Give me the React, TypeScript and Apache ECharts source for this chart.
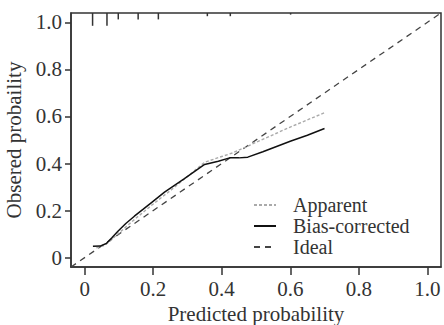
import React, { useEffect, useRef } from "react";
import * as echarts from "echarts";

const tickValues = [0, 0.2, 0.4, 0.6, 0.8, 1.0];
const tickLabels = ["0", "0.2", "0.4", "0.6", "0.8", "1.0"];

const idealX = [-0.04, 1.04];
const idealY = [-0.04, 1.04];

const apparentX = [0.034, 0.058, 0.08, 0.1, 0.15, 0.2, 0.25, 0.3, 0.35, 0.4, 0.432, 0.5, 0.6, 0.7];
const apparentY = [0.041, 0.052, 0.078, 0.105, 0.168, 0.228, 0.285, 0.345, 0.405, 0.43, 0.445, 0.49, 0.555, 0.616];

const biasX = [0.024, 0.045, 0.063, 0.08, 0.097, 0.12, 0.145, 0.17, 0.194, 0.233, 0.29, 0.35, 0.39, 0.423, 0.45, 0.476, 0.52, 0.6, 0.65, 0.7];
const biasY = [0.048, 0.049, 0.06, 0.085, 0.112, 0.145, 0.176, 0.205, 0.233, 0.278, 0.335, 0.396, 0.41, 0.424, 0.424, 0.427, 0.45, 0.495, 0.52, 0.549];

const rugX = [0.023, 0.065, 0.098, 0.156, 0.215, 0.358, 0.425, 0.601];
const rugFreq = [8, 8, 4, 4, 4, 2, 2, 1];

const FONT = "'Liberation Serif', 'DejaVu Serif', serif";
const FS = 21;
const AX = "#333";
const C_IDEAL = "#444";
const C_APP = "#aaa";
const C_BIAS = "#111";

export default function App() {
  const ref = useRef<HTMLDivElement>(null);
  useEffect(() => {
    if (!ref.current) return;
    const chart = echarts.init(ref.current, undefined, { renderer: "svg" });
    const zip = (xs: number[], ys: number[]) => xs.map((x, i) => [x, ys[i]]);
    const labelFmt = (v: number) => {
      const i = tickValues.findIndex((t) => Math.abs(t - v) < 1e-9);
      return i >= 0 ? tickLabels[i] : "";
    };
    chart.setOption({
      animation: false,
      backgroundColor: "#fff",
      textStyle: { fontFamily: FONT },
      grid: {
        left: 71,
        top: 13,
        right: 3,
        bottom: 58,
        containLabel: false,
        outerBoundsMode: "none",
        show: true,
        borderColor: AX,
        borderWidth: 1.5,
        backgroundColor: "transparent",
      },
      xAxis: {
        type: "value",
        min: -0.04,
        max: 1.04,
        name: "Predicted probability",
        nameLocation: "middle",
        nameGap: 34,
        nameTextStyle: { fontFamily: FONT, fontSize: FS, color: AX },
        axisLine: { show: true, onZero: false, lineStyle: { color: AX, width: 1.5 } },
        axisTick: { show: true, length: 8, customValues: tickValues, lineStyle: { color: AX, width: 1.5 } },
        axisLabel: {
          customValues: tickValues,
          formatter: labelFmt,
          fontFamily: FONT,
          fontSize: FS,
          color: AX,
          margin: 11,
        },
        splitLine: { show: false },
      },
      yAxis: {
        type: "value",
        min: -0.04,
        max: 1.04,
        name: "Obsered probaility",
        nameLocation: "middle",
        nameGap: 46,
        nameTextStyle: { fontFamily: FONT, fontSize: FS, color: AX },
        axisLine: { show: true, onZero: false, lineStyle: { color: AX, width: 1.5 } },
        axisTick: { show: true, length: 6, customValues: tickValues, lineStyle: { color: AX, width: 1.5 } },
        axisLabel: {
          customValues: tickValues,
          formatter: labelFmt,
          fontFamily: FONT,
          fontSize: FS,
          color: AX,
          margin: 9,
        },
        splitLine: { show: false },
      },
      legend: {
        data: ["Apparent", "Bias-corrected", "Ideal"],
        orient: "vertical",
        left: 253,
        top: 195,
        padding: 0,
        itemWidth: 22,
        itemHeight: 14,
        itemGap: 1,
        itemStyle: { opacity: 0 },
        textStyle: { fontFamily: FONT, fontSize: 20, lineHeight: 20, color: AX, padding: [0, 0, 0, 12] },
      },
      series: [
        {
          name: "Ideal",
          type: "line",
          data: zip(idealX, idealY),
          symbol: "none",
          itemStyle: { color: C_IDEAL },
          lineStyle: { color: C_IDEAL, width: 1.3, type: [6, 5] },
          z: 2,
        },
        {
          name: "Apparent",
          type: "line",
          data: zip(apparentX, apparentY),
          symbol: "none",
          itemStyle: { color: C_APP },
          lineStyle: { color: C_APP, width: 1.4, type: [3, 2] },
          z: 3,
        },
        {
          name: "Bias-corrected",
          type: "line",
          data: zip(biasX, biasY),
          symbol: "none",
          itemStyle: { color: C_BIAS },
          lineStyle: { color: C_BIAS, width: 1.5 },
          z: 4,
        },
        {
          name: "rug",
          type: "custom",
          data: zip(rugX, rugFreq),
          renderItem: (params: any, api: any) => {
            const x = api.value(0);
            const f = api.value(1);
            const p = api.coord([x, 1.04]);
            return {
              type: "line",
              shape: { x1: p[0], y1: p[1], x2: p[0], y2: p[1] + f * 1.6 },
              style: { stroke: AX, lineWidth: 1.5 },
            };
          },
          z: 5,
        },
      ],
    });
    return () => chart.dispose();
  }, []);
  return (
    <div
      ref={ref}
      style={{ position: "fixed", left: 0, top: 0, width: 444, height: 325 }}
    />
  );
}
